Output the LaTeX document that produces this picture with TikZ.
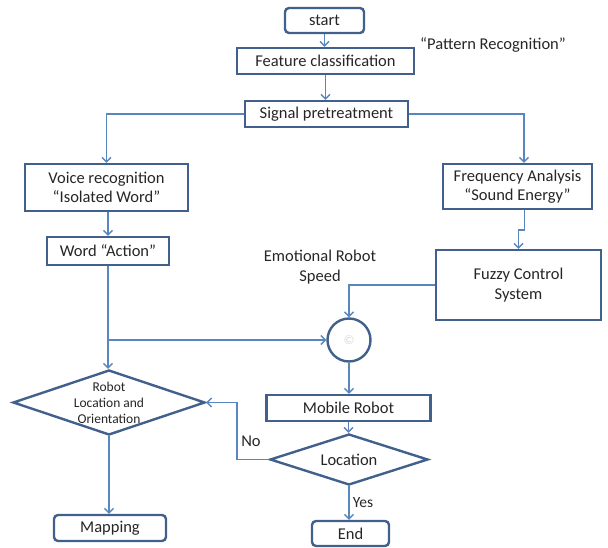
\documentclass[tikz,border=0pt]{standalone}
\usepackage{fontspec}
\setmainfont{Carlito}
\usetikzlibrary{shapes.geometric,arrows.meta}
\definecolor{boxc}{HTML}{41618C}
\definecolor{linec}{HTML}{5A86C0}
\definecolor{txt}{HTML}{262626}
\begin{document}
\begin{tikzpicture}[x=1pt,y=-1pt,
  every node/.style={text=txt, font=\fontsize{16.5}{19.5}\selectfont},
  box/.style={draw=boxc, line width=2.4pt, fill=white, inner sep=0pt, align=center},
  rbox/.style={box, rounded corners=4pt},
  plain/.style={inner sep=0pt, align=center},
  dia/.style={diamond, draw=boxc, line width=2.4pt, fill=white, inner sep=0pt},
  conn/.style={draw=linec, line width=1.6pt, -{Straight Barb[length=4.5pt,width=9pt,line width=1.4pt]}},
  wire/.style={draw=linec, line width=1.6pt}
]
\useasboundingbox (0,0) rectangle (608,548);

\node[rbox, minimum width=79, minimum height=25] (start) at (324.5,20.5) {start};
\node[box, minimum width=177, minimum height=26] (fc) at (325.5,61) {Feature classification};
\node[plain] (pr) at (493,45) {“Pattern Recognition”};
\node[box, minimum width=163, minimum height=26] (sp) at (326.5,114) {Signal pretreatment};
\node[box, minimum width=163, minimum height=47] (vr) at (106.5,187.5) {Voice recognition\\“Isolated Word”};
\node[box, minimum width=122, minimum height=28] (wa) at (108,251) {Word “Action”};
\node[box, minimum width=149, minimum height=45] (fa) at (517.5,186.5) {Frequency Analysis\\“Sound Energy”};
\node[box, minimum width=165, minimum height=70] (fz) at (518.5,285) {Fuzzy Control\\System};
\node[plain] (ers) at (320,267) {Emotional Robot\\Speed};
\node[circle, draw=boxc, line width=2.4pt, fill=white, minimum size=43, inner sep=0pt] (ci) at (349,340) {\textcolor{gray!30}{\fontsize{13}{14}\selectfont ©}};
\node[box, minimum width=164, minimum height=26] (mr) at (348.5,408) {Mobile Robot};
\node[dia, minimum width=158, minimum height=51, label={[plain]center:Location}] (loc) at (349,459.5) {};
\node[rbox, minimum width=77, minimum height=25] (end) at (350.5,533.5) {End};
\node[dia, minimum width=192, minimum height=65, label={[plain, font=\fontsize{13.5}{16}\selectfont]center:Robot\\Location and\\Orientation}] (rd) at (109,402.5) {};
\node[rbox, minimum width=112, minimum height=26] (map) at (110,528) {Mapping};

\node[plain] (no) at (251,441) {No};
\node[plain, font=\fontsize{15.5}{17}\selectfont] (yes) at (363,503) {Yes};

\draw[conn] (start.south) -- (start.south |- fc.north);
\draw[conn] (fc.south) -- (fc.south |- sp.north);
\draw[conn] (sp.west) -| (vr.north);
\draw[conn] (sp.east) -| ([xshift=6.5pt]fa.north);
\draw[conn] ([xshift=7pt]fa.south) -- ++(0,20) -| (fz.north);
\draw[conn] (wa.north |- vr.south) -- (wa.north);
\coordinate (j) at (108,340);
\draw[wire] (wa.south) -- (j);
\draw[conn] (j) -- (ci.west);
\draw[conn] (j) -- (j |- rd.north);
\draw[conn] (fz.west) -| (ci.north);
\draw[conn] (ci.south) -- (ci.south |- mr.north);
\draw[conn] (mr.south) -- (mr.south |- loc.north);
\draw[conn] (loc.west) -- ++(-32,0) |- (rd.east);
\draw[conn] (loc.south) -- (loc.south |- end.north);
\draw[conn] (rd.south) -- (rd.south |- map.north);
\end{tikzpicture}
\end{document}
